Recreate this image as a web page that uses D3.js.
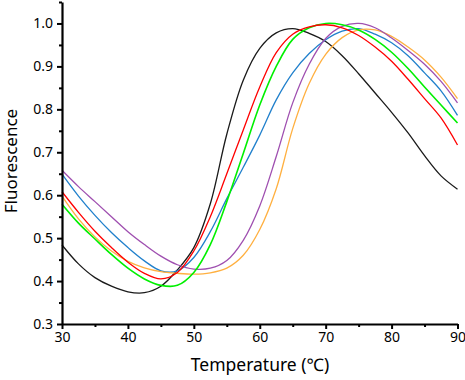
<!DOCTYPE html>
<html>
<head>
<meta charset="utf-8">
<script src="https://cdn.jsdelivr.net/npm/d3@7"></script>
<style>
  html, body { margin: 0; padding: 0; background: #fff; }
  svg { display: block; }
  text { font-family: "Noto Sans", "Open Sans", sans-serif; fill: #000; }
</style>
</head>
<body>
<svg id="chart" width="465" height="380"></svg>
<script>
// Temperatures (°C) at which the curves were sampled
const temps = [30, 32.5, 35, 37.5, 40, 42.5, 45, 47.5, 50, 52.5, 55, 57.5, 60, 62.5, 65, 67.5, 70, 72.5, 75, 77.5, 80, 82.5, 85, 87.5, 90];

const blackVals  = [0.484, 0.440, 0.408, 0.388, 0.375, 0.373, 0.388, 0.426, 0.478, 0.580, 0.742, 0.868, 0.942, 0.978, 0.988, 0.977, 0.958, 0.925, 0.883, 0.838, 0.793, 0.745, 0.692, 0.645, 0.614];
const redVals    = [0.608, 0.560, 0.516, 0.478, 0.444, 0.418, 0.405, 0.420, 0.470, 0.550, 0.650, 0.752, 0.852, 0.932, 0.975, 0.992, 0.997, 0.990, 0.972, 0.945, 0.912, 0.870, 0.825, 0.780, 0.717];
const greenVals  = [0.579, 0.535, 0.498, 0.462, 0.430, 0.405, 0.390, 0.390, 0.420, 0.485, 0.585, 0.697, 0.810, 0.900, 0.963, 0.990, 1.000, 0.997, 0.985, 0.963, 0.933, 0.895, 0.852, 0.810, 0.768];
const blueVals   = [0.649, 0.598, 0.553, 0.513, 0.478, 0.447, 0.424, 0.424, 0.455, 0.515, 0.592, 0.665, 0.740, 0.822, 0.885, 0.930, 0.962, 0.982, 0.988, 0.975, 0.955, 0.925, 0.885, 0.843, 0.786];
const purpleVals = [0.658, 0.620, 0.585, 0.550, 0.515, 0.485, 0.458, 0.438, 0.428, 0.430, 0.448, 0.495, 0.575, 0.690, 0.815, 0.905, 0.965, 0.993, 1.000, 0.990, 0.966, 0.937, 0.905, 0.865, 0.815];
const orangeVals = [0.598, 0.545, 0.503, 0.470, 0.446, 0.431, 0.422, 0.418, 0.416, 0.419, 0.430, 0.460, 0.520, 0.615, 0.755, 0.860, 0.928, 0.967, 0.985, 0.985, 0.970, 0.945, 0.915, 0.875, 0.825];

const seriesNames  = ["black", "red", "green", "blue", "purple", "orange"];
const seriesValues = [blackVals, redVals, greenVals, blueVals, purpleVals, orangeVals];
const seriesColors = ["#1a1a1a", "#ff0000", "#00f000", "#2080cc", "#9f4fb0", "#ffb040"];

const xTicks = [30, 40, 50, 60, 70, 80, 90];
const xMinorTicks = [35, 45, 55, 65, 75, 85];
const yTicks = [0.3, 0.4, 0.5, 0.6, 0.7, 0.8, 0.9, 1.0];
const yMinorTicks = [0.35, 0.45, 0.55, 0.65, 0.75, 0.85, 0.95, 1.05];

const xTitle = "Temperature (℃)";
const yTitle = "Fluorescence";

const svg = d3.select("#chart");
const x = d3.scaleLinear().domain([30, 90]).range([62, 457.5]);
const y = d3.scaleLinear().domain([0.3, 1.05]).range([324, 2]);

// curves
const line = d3.line()
  .x((d, i) => x(temps[i]))
  .y(d => y(d))
  .curve(d3.curveCatmullRom.alpha(0.5));

const order = [0, 3, 5, 4, 2, 1];
svg.append("g").selectAll("path")
  .data(order)
  .join("path")
  .attr("fill", "none")
  .attr("stroke", i => seriesColors[i])
  .attr("stroke-width", i => seriesNames[i] === "green" ? 1.6 : 1.3)
  .attr("d", i => line(seriesValues[i]));

// axes
function styleAxis(g) {
  g.select(".domain").attr("stroke", "#000").attr("stroke-width", 2.2);
  g.selectAll(".tick line").attr("stroke", "#000").attr("stroke-width", 2);
  g.selectAll(".tick text").style("font-size", "14px").attr("fill", "#000");
}

const xAxis = svg.append("g").attr("transform", "translate(0,324)")
  .call(d3.axisBottom(x).tickValues(xTicks).tickFormat(d3.format("d")).tickSize(5).tickPadding(3).tickSizeOuter(0));
styleAxis(xAxis);
const xMinor = svg.append("g").attr("transform", "translate(0,324)")
  .call(d3.axisBottom(x).tickValues(xMinorTicks).tickFormat("").tickSize(3).tickSizeOuter(0));
styleAxis(xMinor);
xMinor.select(".domain").remove();

const yAxis = svg.append("g").attr("transform", "translate(62,0)")
  .call(d3.axisLeft(y).tickValues(yTicks).tickFormat(d3.format(".1f")).tickSize(5).tickPadding(4).tickSizeOuter(0));
styleAxis(yAxis);
const yMinor = svg.append("g").attr("transform", "translate(62,0)")
  .call(d3.axisLeft(y).tickValues(yMinorTicks).tickFormat("").tickSize(3).tickSizeOuter(0));
styleAxis(yMinor);
yMinor.select(".domain").remove();

// titles
svg.append("text")
  .attr("x", 260).attr("y", 371)
  .attr("text-anchor", "middle")
  .style("font-size", "17.5px")
  .text(xTitle);

svg.append("text")
  .attr("transform", "translate(17,161) rotate(-90)")
  .attr("text-anchor", "middle")
  .style("font-size", "17px")
  .text(yTitle);
</script>
</body>
</html>
